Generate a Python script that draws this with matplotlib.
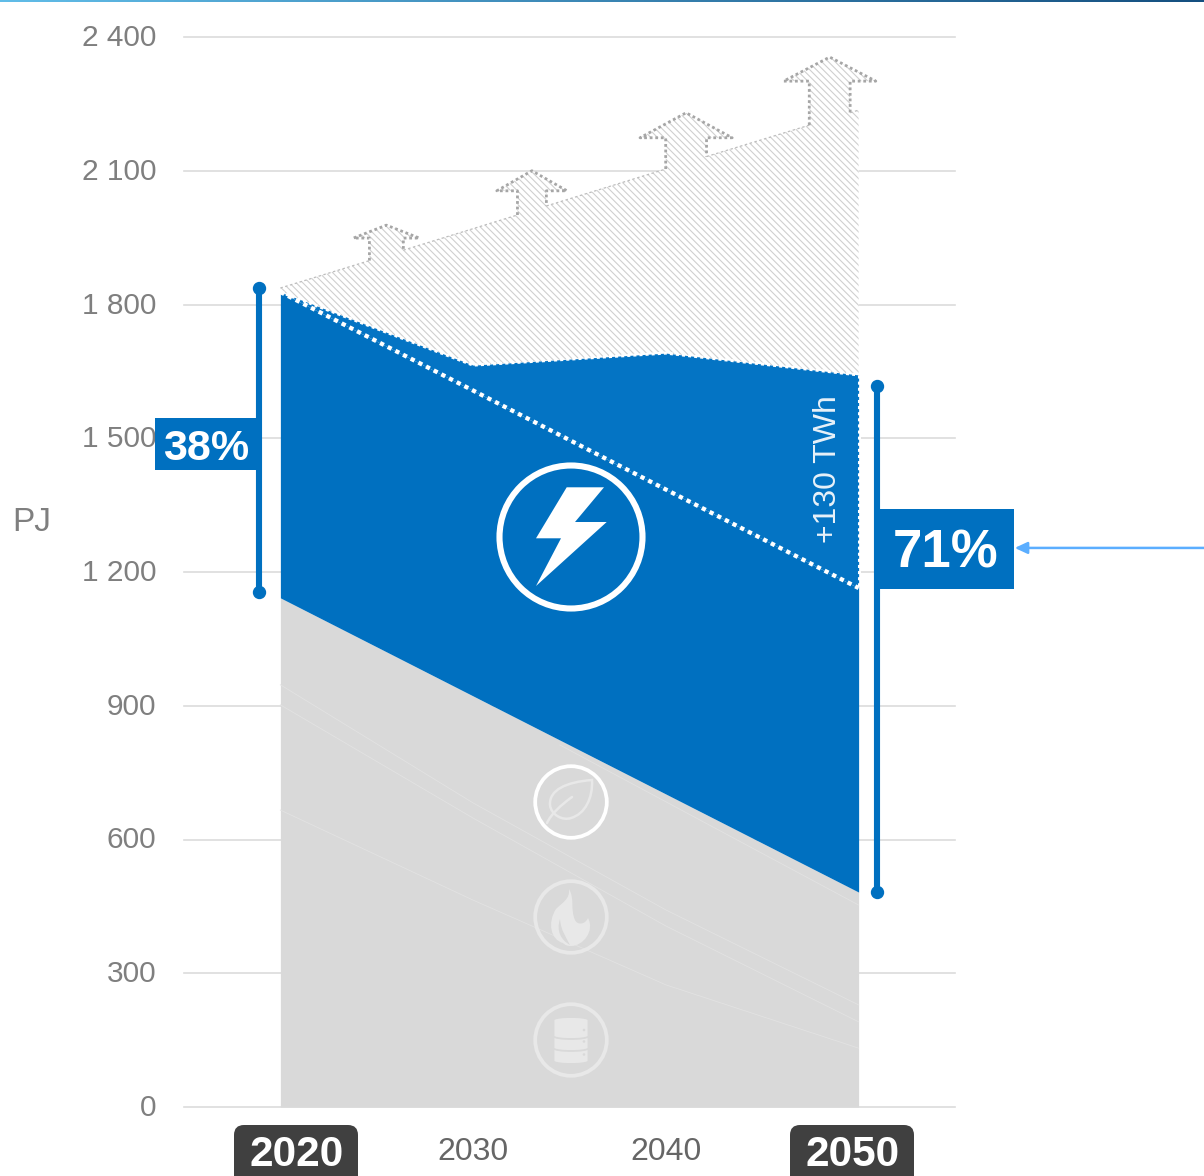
import matplotlib
matplotlib.use("Agg")  # headless
import matplotlib.pyplot as plt
import numpy as np
from matplotlib.patches import Circle, FancyBboxPatch, PathPatch, Polygon, Rectangle
from matplotlib.path import Path
from matplotlib.transforms import Affine2D, ScaledTranslation

W, H = 1204, 1176

years = [2020, 2030, 2040, 2050]
y_ticks = [0, 300, 600, 900, 1200, 1500, 1800, 2100, 2400]
y_labels = ["0", "300", "600", "900", "1 200", "1 500", "1 800", "2 100", "2 400"]

other_top = [1142, 922, 702, 482]           # grey area
elec_base = [1828, 1607, 1385, 1164]        # white dotted line
elec_top = [1828, 1664, 1691, 1642]         # blue area
total_top = [1837, 1970, 2104, 2236]        # hatched area

# thin lines inside the grey area
seam_a = [947, 682, 442, 229]
seam_b = [902, 648, 406, 191]
seam_c = [666, 464, 274, 132]
seam_d_years = [2034.5, 2050]
seam_d = [812, 453]

# upward arrows: centre year, half shaft, half head, head base, tip
arrow_year = [2025.5, 2033.05, 2041.05, 2048.5]
arrow_shaft = [0.88, 0.75, 1.06, 1.06]
arrow_head = [1.71, 1.82, 2.39, 2.39]
arrow_base = [1949, 2055, 2174, 2301]
arrow_tip = [1978, 2100, 2230, 2355]

BLUE = "#0070C0"
BLUE_UP = "#0474C4"
GREY = "#D9D9D9"
ICON = "#E8E8E8"
DOTS = (0, (1, 1))

plt.rcParams["font.family"] = ["Liberation Sans", "DejaVu Sans"]
plt.rcParams["hatch.linewidth"] = 0.8

fig = plt.figure(figsize=(W / 100, H / 100), dpi=100)
ax = fig.add_axes([184 / W, 1 - 1107 / H, 771 / W, 1070 / H])
ax.set_xlim(2015, 2055)
ax.set_ylim(0, 2400)
for s in ax.spines.values():
    s.set_visible(False)

ax.set_yticks(y_ticks, y_labels)
ax.set_xticks(years[1:-1], [str(v) for v in years[1:-1]])
ax.tick_params(axis="y", length=0, pad=20, labelsize=21.5, labelcolor="#7F7F7F")
ax.tick_params(axis="x", length=0, pad=21.5, labelsize=23, labelcolor="#666666")
nudge = ScaledTranslation(0, 2 / 100, fig.dpi_scale_trans)
for lab in ax.get_yticklabels():
    lab.set_transform(lab.get_transform() + nudge)
ax.set_axisbelow(True)
ax.grid(axis="y", color="#DCDCDC", linewidth=1.2)
for ln in ax.get_ygridlines():
    ln.set_clip_on(False)
ax.set_ylabel("PJ", rotation=0, fontsize=24, color="#7F7F7F", ha="center", va="center")
ax.yaxis.set_label_coords(-0.198, 0.5458)

# hatched outline with the arrows cut in
top_x, top_y = [years[0]], [total_top[0]]
for c, sh, hd, b, t in zip(arrow_year, arrow_shaft, arrow_head, arrow_base, arrow_tip):
    arrow_x = [c - sh, c - sh, c - hd, c, c + hd, c + sh, c + sh]
    arrow_y = [np.interp(c - sh, years, total_top), b, b, t, b, b, np.interp(c + sh, years, total_top)]
    ax.plot(arrow_x, arrow_y, color="#A6A6A6", linewidth=2.0, linestyle=DOTS, zorder=2.2)
    # roof line between arrows is much fainter
    ax.plot([top_x[-1], arrow_x[0]], [top_y[-1], arrow_y[0]], color="#BDBDBD", linewidth=0.9, linestyle=(0, (2, 2)),
            zorder=2.2)
    top_x += arrow_x
    top_y += arrow_y
ax.plot([top_x[-1], years[-1]], [top_y[-1], total_top[-1]], color="#BDBDBD", linewidth=0.9, linestyle=(0, (2, 2)),
        zorder=2.2)
top_x.append(years[-1])
top_y.append(total_top[-1])

poly = list(zip(top_x, top_y)) + list(zip(years[::-1], elec_top[::-1]))
ax.add_patch(Polygon(poly, closed=True, facecolor="white", edgecolor="none", zorder=2))
ax.add_patch(Polygon(poly, closed=True, facecolor="none", edgecolor="#CFCFCF", hatch="\\\\\\\\\\", linewidth=0, zorder=2.1))

ax.fill_between(years, 0, other_top, color=GREY, linewidth=0, zorder=3)
ax.fill_between(years, other_top, elec_base, color=BLUE, linewidth=0, zorder=3)
ax.fill_between(years, elec_base, elec_top, color=BLUE_UP, linewidth=0, zorder=3)

for vals in (seam_a, seam_b, seam_c):
    ax.plot(years, vals, color="#E2E2E2", linewidth=0.6, zorder=3.1)
ax.plot(seam_d_years, seam_d, color="#E2E2E2", linewidth=0.6, zorder=3.1)

ax.plot(years, elec_top, color="white", linewidth=2.2, linestyle=DOTS, zorder=4)
ax.plot(years, elec_base, color="white", linewidth=3.1, linestyle=DOTS, zorder=4)
ax.plot([2050, 2050], [elec_top[-1], elec_base[-1]], color="white", linewidth=2.2, linestyle=DOTS, zorder=4)

# range bars either side
bar_years = [2018.9, 2050.93]
bar_low = [1155, 482]
bar_high = [1837, 1617]
for x, lo, hi in zip(bar_years, bar_low, bar_high):
    ax.plot([x, x], [lo, hi], color=BLUE, linewidth=4.4, marker="o", ms=8.6, clip_on=False, zorder=5)

ax.add_patch(Rectangle((2013.49, 1429), 5.35, 116, facecolor=BLUE, edgecolor="none", clip_on=False, zorder=6))
ax.add_patch(Rectangle((2050.93, 1162), 7.15, 179, facecolor=BLUE, edgecolor="none", clip_on=False, zorder=6))
ax.text(2016.14, 1476, "38%", color="white", fontsize=31, fontweight="bold", ha="center", va="center", zorder=7)
ax.text(2054.5, 1241, "71%", color="white", fontsize=38, fontweight="bold", ha="center", va="center", clip_on=False, zorder=7)
ax.annotate("", xy=(2058.1, 1254), xytext=(2068, 1254), annotation_clip=False, zorder=6,
            arrowprops=dict(arrowstyle="-|>,head_length=0.75,head_width=0.35", color="#5BAEFF", lw=1.8,
                            shrinkA=0, shrinkB=0))
ax.text(2048.42, 1430, "+130 TWh", color="#E8F1F9", fontsize=23, rotation=90, ha="center", va="center", zorder=7)


def icon_tf(cx, cy):
    # icon shapes are drawn in pixels from their centre, y down
    return Affine2D().scale(1, -1).translate(cx, H - cy)


def icon_path(verts, codes, cx, cy, **kw):
    ax.add_patch(PathPatch(Path(verts, codes), transform=icon_tf(cx, cy), clip_on=False, zorder=8, **kw))


def ring(cx, cy, r, lw, color):
    ax.add_patch(Circle((0, 0), r, transform=icon_tf(cx, cy), fill=False, edgecolor=color, linewidth=lw,
                        clip_on=False, zorder=8))


# end year badges
for left, x, label in zip([234, 790], [2020.85, 2049.7], [years[0], years[-1]]):
    ax.add_patch(FancyBboxPatch((left, 1125), 124, 70, boxstyle="round,pad=0,rounding_size=10",
                                transform=icon_tf(0, 0), facecolor="#404040", edgecolor="none",
                                clip_on=False, zorder=6))
    ax.text(x, -107, str(label), color="white", fontsize=30.5, fontweight="bold", ha="center", va="center",
            clip_on=False, zorder=7)

M, L, C, Z = Path.MOVETO, Path.LINETO, Path.CURVE4, Path.CLOSEPOLY

# power
ring(571, 537, 71.5, 4.4, "white")
bolt = [(-4.3, -49.7), (33, -49.7), (4, -15), (35.7, -15), (-35, 49), (-10, 1.3), (-35, 1.3)]
ax.add_patch(Polygon(bolt, closed=True, transform=icon_tf(571, 537), facecolor="white", edgecolor="none",
                     clip_on=False, zorder=8))

# leaf
ring(571, 802, 35.8, 2.7, "white")
icon_path([(21, -22), (-5, -20), (-22, -12), (-21, 3), (-20, 13), (-8, 19), (0, 16), (14, 12), (22, -4), (21, -22),
           (21, -22)],
          [M, C, C, C, C, C, C, C, C, C, Z], 571, 802, facecolor="none", edgecolor=ICON, linewidth=1.8)
icon_path([(1, -5), (-10, 3), (-20, 12), (-24, 21)], [M, C, C, C], 571, 802, facecolor="none", edgecolor=ICON,
          linewidth=1.8, capstyle="round")

# fuel
ring(571, 917, 35.8, 2.7, ICON)
icon_path([(-2, -28), (4, -18), (-1, -8), (4, 3), (6, 8), (14, 8), (17, 1), (24, 14), (12, 29), (0, 29),
           (-4, 29), (-6, 28), (-8, 26), (-20, 23), (-24, 6), (-15, -8), (-8, -15), (-1, -18), (-2, -28), (-2, -28)],
          [M, C, C, C, C, C, C, C, C, C, C, C, C, C, C, C, C, C, C, Z], 571, 917, facecolor=ICON, edgecolor="none")
icon_path([(-11, 2), (-15, 14), (-10, 23), (-1, 28), (-5, 20), (-10, 14), (-11, 2), (-11, 2)],
          [M, C, C, C, C, C, C, Z], 571, 917, facecolor=GREY, edgecolor="none")

# storage, lowest disk first so the upper ones overlap it
ring(571, 1040, 35.8, 2.7, ICON)
for t, b in zip([4, -9, -20], [21, 8, -4]):
    icon_path([(-17.5, t), (-17.5, t - 4), (17.5, t - 4), (17.5, t), (17.5, b), (17.5, b + 4), (-17.5, b + 4),
               (-17.5, b), (-17.5, t)],
              [M, C, C, C, L, C, C, C, Z], 571, 1040, facecolor=ICON, edgecolor=GREY, linewidth=1.3)
    ax.add_patch(Circle((13, (t + b) / 2 + 2), 1.3, transform=icon_tf(571, 1040), facecolor=GREY, edgecolor="none",
                        clip_on=False, zorder=8))

# thin gradient strip along the top edge
strip = fig.add_axes([0, 1 - 2 / H, 1, 2 / H])
strip.axis("off")
c0, c1 = np.array([0.38, 0.74, 0.91]), np.array([0.08, 0.31, 0.50])
mix = np.linspace(0, 1, 256)[None, :, None]
strip.imshow(c0 * (1 - mix) + c1 * mix, aspect="auto")

fig.savefig("out.png", dpi=100)
plt.close(fig)
